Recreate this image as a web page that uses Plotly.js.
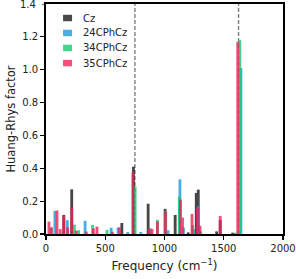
<!DOCTYPE html>
<html><head><meta charset="utf-8">
<script src="https://cdn.plot.ly/plotly-3.0.1.min.js"></script>
<style>html,body{margin:0;padding:0;background:#fff}#c{width:296px;height:279px}</style>
</head><body><div id="c"></div>
<script>
const seriesNames = ['Cz', '24CPhCz', '34CPhCz', '35CPhCz'];
const seriesColors = ['#1a1a1a', '#1b9be0', '#0fcc6f', '#ec2459'];

const czFreq = [150, 217, 640, 738, 862, 1005, 1090, 1200, 1268, 1285, 1440, 1470, 1575];
const czHR   = [0.116, 0.272, 0.067, 0.41, 0.184, 0.153, 0.116, 0.01, 0.25, 0.27, 0.016, 0.085, 0.008];

const c24Freq = [75, 180, 330, 550, 608, 690, 800, 880, 1030, 1130, 1160, 1245, 1285, 1645];
const c24HR   = [0.14, 0.084, 0.08, 0.038, 0.04, 0.012, 0.012, 0.034, 0.023, 0.333, 0.04, 0.03, 0.17, 1.01];

const c34Freq = [45, 240, 275, 393, 515, 752, 940, 1010, 1125, 1238, 1305, 1595, 1635];
const c34HR   = [0.04, 0.057, 0.023, 0.055, 0.025, 0.29, 0.086, 0.143, 0.227, 0.055, 0.017, 0.008, 1.18];

const c35Freq = [25, 45, 93, 120, 150, 182, 217, 255, 340, 400, 430, 560, 620, 733, 870, 895, 940, 1008, 1135, 1152, 1232, 1278, 1300, 1470, 1618];
const c35HR   = [0.076, 0.04, 0.143, 0.03, 0.11, 0.04, 0.162, 0.02, 0.015, 0.034, 0.045, 0.013, 0.04, 0.375, 0.034, 0.03, 0.076, 0.139, 0.21, 0.1, 0.122, 0.16, 0.05, 0.11, 1.17];

const markerLines = [750, 1625];
const xTicks = [0, 500, 1000, 1500, 2000];
const yTicks = [0, 0.2, 0.4, 0.6, 0.8, 1.0, 1.2];
const yTopTick = 1.4;

const xs = [czFreq, c24Freq, c34Freq, c35Freq];
const ys = [czHR, c24HR, c34HR, c35HR];
const FONT = 'DejaVu Sans, sans-serif';

const traces = seriesNames.map((n, i) => ({
  type: 'bar', name: n, x: xs[i], y: ys[i], width: 24,
  marker: {color: seriesColors[i], line: {width: 0}}, opacity: 0.8,
  showlegend: false
}));

const shapes = markerLines.map(v => ({
  type: 'line', xref: 'x', yref: 'paper', x0: v, x1: v, y0: 0, y1: 1,
  line: {color: '#808080', width: 1.4, dash: '4px,2px'}, layer: 'below'
}));
// top tick mark and label (label drawn as annotation so it is not hidden at the edge)
shapes.push({type: 'line', xref: 'paper', yref: 'y', x0: -4 / 237, x1: 0, y0: yTopTick, y1: yTopTick,
  line: {color: '#000', width: 1.2}});
const annotations = [{xref: 'paper', yref: 'y', x: -8 / 237, y: yTopTick, xanchor: 'right', yanchor: 'middle',
  text: yTopTick.toFixed(1), showarrow: false, font: {family: FONT, size: 10, color: '#222'}}];
const legY = [0.939, 0.874, 0.809, 0.743];
seriesNames.forEach((n, i) => {
  shapes.push({type: 'rect', xref: 'paper', yref: 'paper',
    x0: 0.072, x1: 0.11, y0: legY[i] - 0.014, y1: legY[i] + 0.014,
    fillcolor: seriesColors[i], opacity: 0.8, line: {width: 0}});
  annotations.push({xref: 'paper', yref: 'paper', x: 0.148, y: legY[i],
    xanchor: 'left', yanchor: 'middle', text: n, showarrow: false,
    font: {family: FONT, size: 10, color: '#222'}});
});

const layout = {
  width: 296, height: 279,
  margin: {l: 46, r: 13, t: 4, b: 45},
  paper_bgcolor: '#fff', plot_bgcolor: '#fff',
  barmode: 'overlay', showlegend: false,
  font: {family: FONT, size: 10, color: '#222'},
  xaxis: {range: [0, 2000], tickvals: xTicks, ticks: 'outside', ticklen: 4, tickwidth: 1.2,
    tickcolor: '#000', showline: true, linecolor: '#000', linewidth: 1.8, mirror: true,
    showgrid: false, zeroline: false, tickfont: {size: 10, color: '#222'},
    title: {text: 'Frequency (cm<sup>−1</sup>)', font: {size: 12, color: '#222'}, standoff: 9}},
  yaxis: {range: [0, 1.4], tickvals: yTicks, tickformat: '.1f', ticks: 'outside', ticklen: 4, tickwidth: 1.2,
    tickcolor: '#000', showline: true, linecolor: '#000', linewidth: 1.8, mirror: true,
    showgrid: false, zeroline: false, tickfont: {size: 10, color: '#222'},
    title: {text: 'Huang-Rhys factor', font: {size: 11.5, color: '#222'}, standoff: 4}},
  shapes: shapes, annotations: annotations
};
Plotly.newPlot('c', traces, layout, {staticPlot: true, displayModeBar: false});
</script></body></html>
